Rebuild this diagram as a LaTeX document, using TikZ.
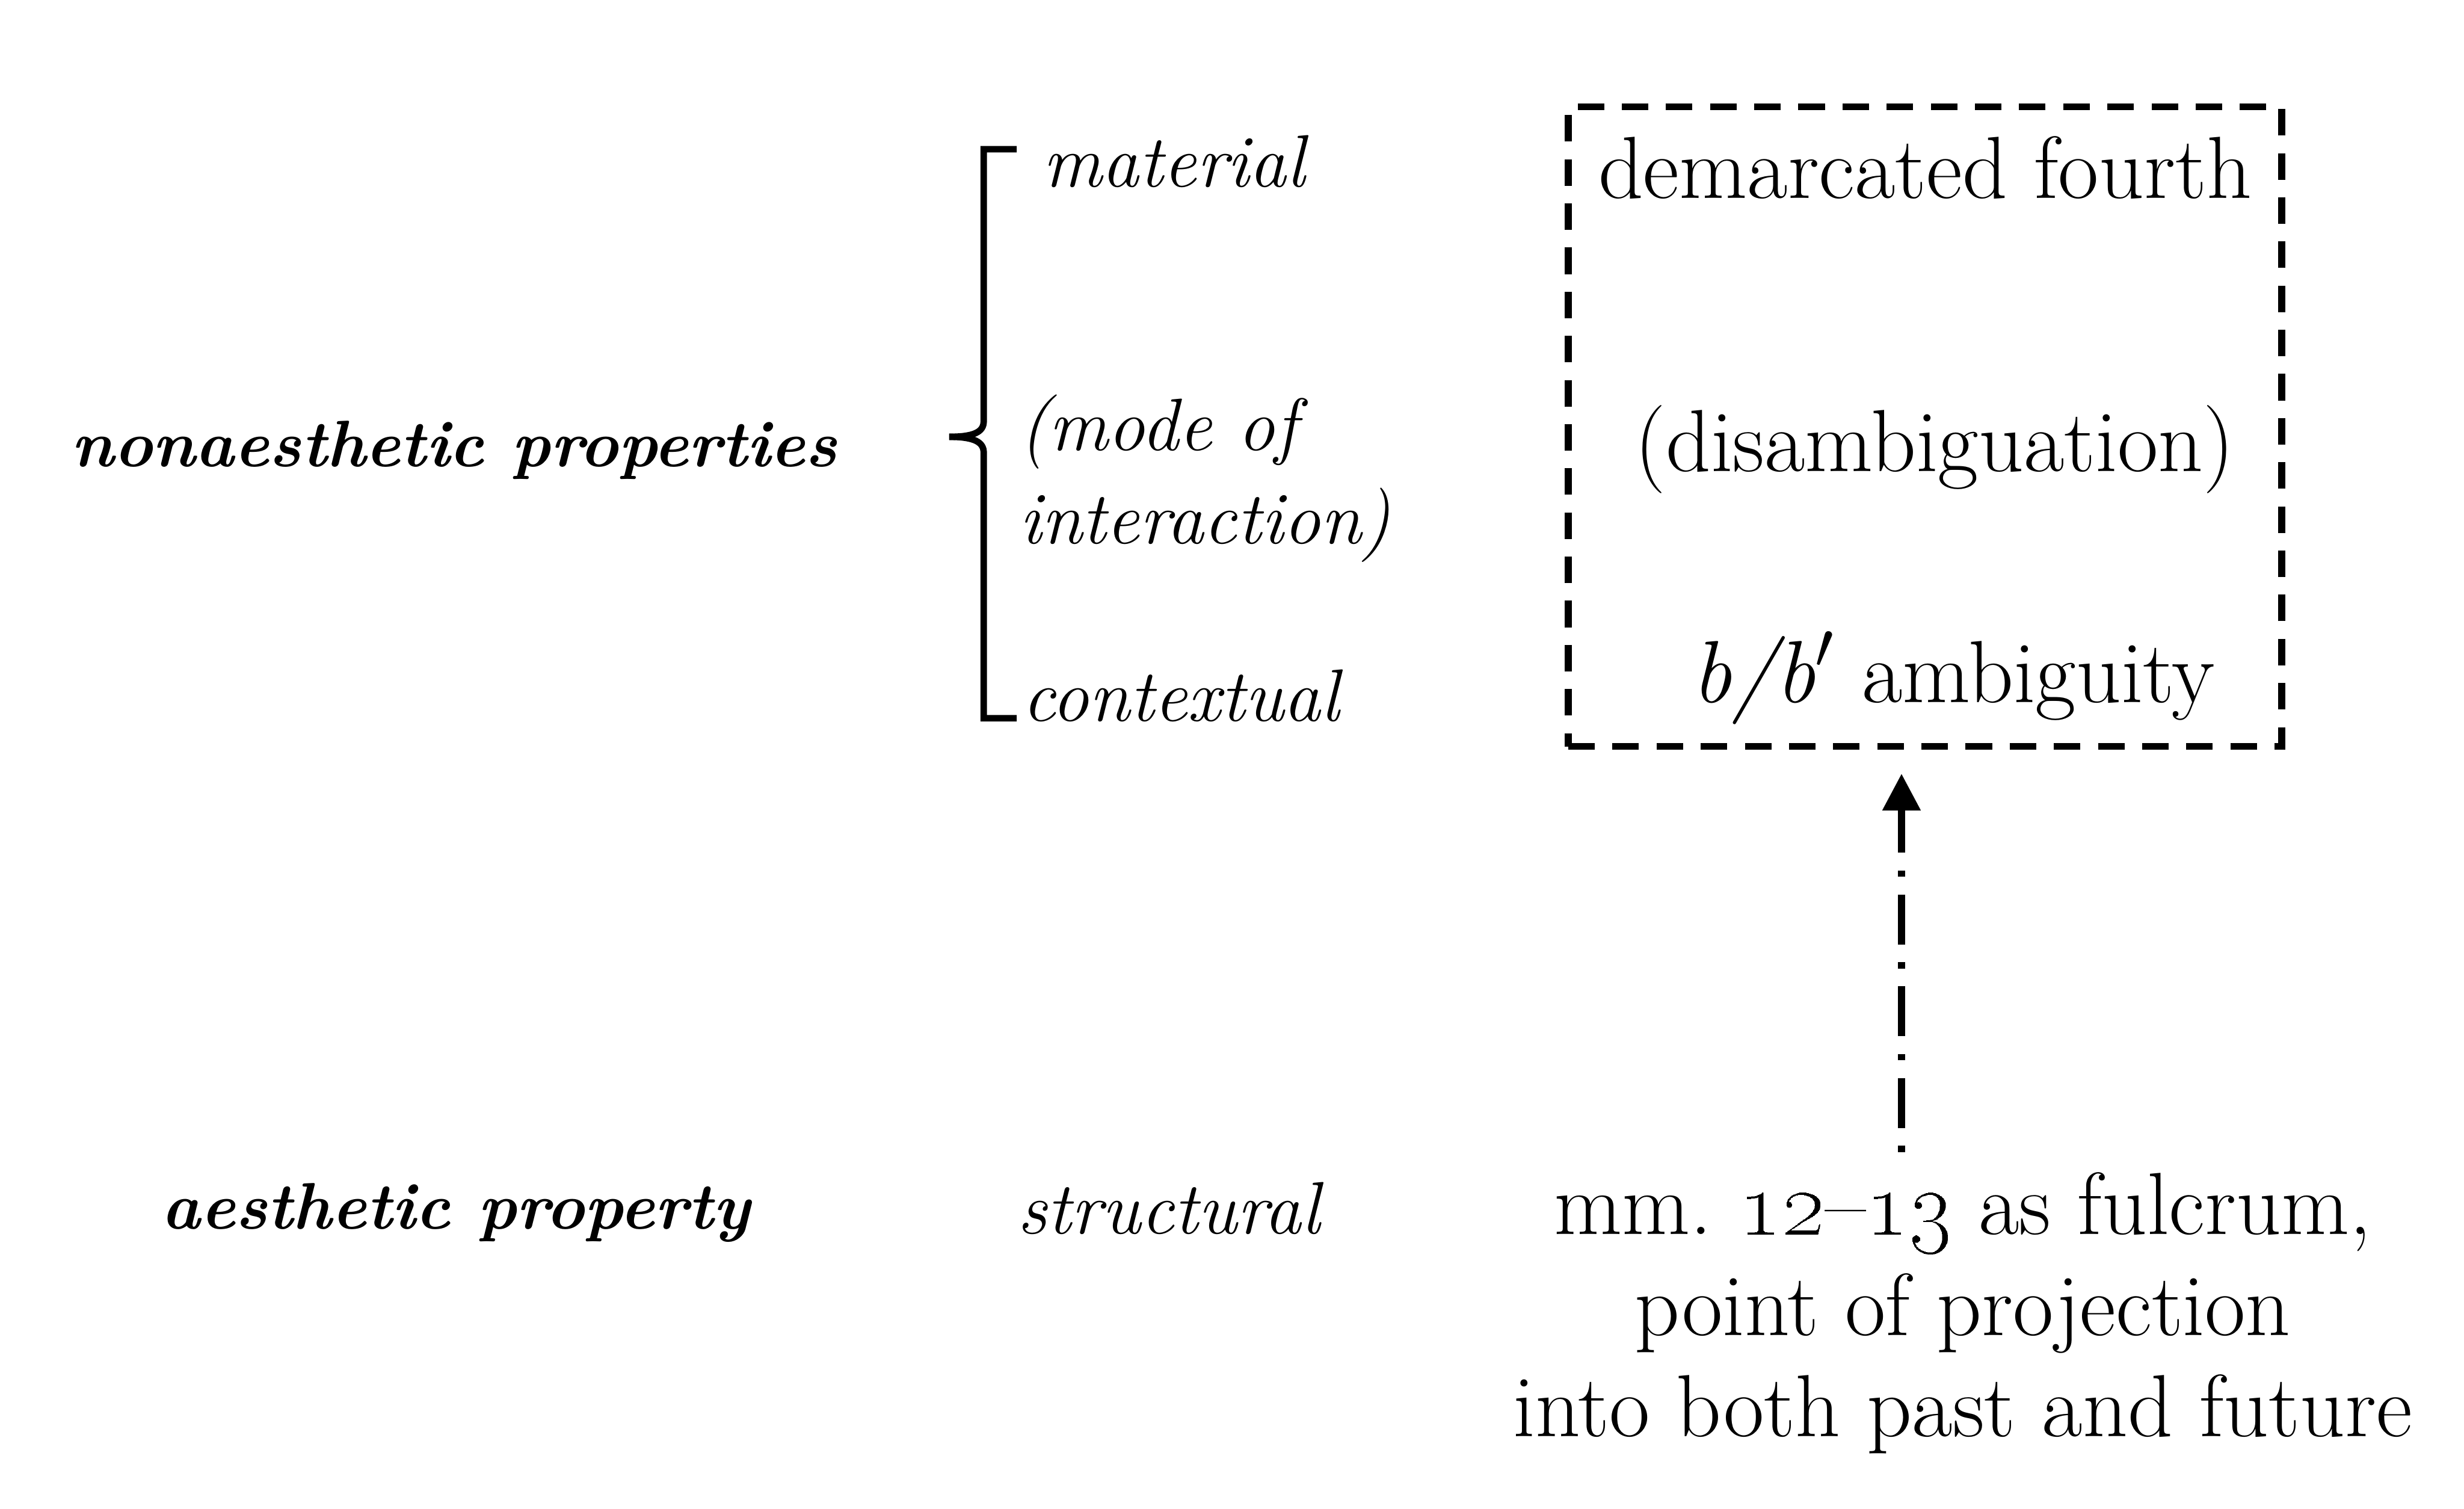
\documentclass[tikz,border=0pt]{standalone}
\usetikzlibrary{arrows.meta}
\begin{document}
\begin{tikzpicture}[
    mytext/.style={font=\fontsize{23.2}{26.6}\selectfont, inner sep=0pt, anchor=base},
    myital/.style={font=\fontsize{19.5}{24.5}\selectfont\itshape, inner sep=0pt, anchor=base west},
    myhead/.style={font=\fontsize{17.3}{21}\selectfont\bfseries\itshape, inner sep=0pt, anchor=base},
    mybox/.style={draw, line width=1.8pt, dash pattern=on 0.245cm off 0.163cm,
        minimum width=6.594cm, minimum height=5.911cm, inner sep=0pt},
    myarrow/.style={-{Triangle[length=0.34cm, width=0.34cm]}, line width=1.8pt,
        dash pattern=on 0.058cm off 0.165cm on 0.46cm off 0.165cm},
    mybrace/.style={line width=1.7pt}
]
    \useasboundingbox (0, 0) rectangle (22.774, 13.943);

    % Left column
    \node[myhead] (nonaes) at (4.198, 9.630) {nonaesthetic properties};
    \node[myhead] (aes) at (4.212, 2.585) {aesthetic property};

    % Middle column
    \node[myital] (material) at (9.630, 12.215) {material};
    \node[myital, align=left] (mode) at (9.412, 8.918) {(mode of\\interaction)};
    \node[myital] (context) at (9.441, 7.277) {contextual};
    \node[myital] (struct) at (9.397, 2.542) {structural};

    % Brace
    \coordinate (bracetip) at (8.773, 9.906);
    \draw[mybrace] (9.397, 12.564) -- (9.092, 12.564) -- (9.092, 10.05)
        .. controls (9.092, 9.95) and (9.0, 9.906) .. (bracetip);
    \draw[mybrace] (9.397, 7.306) -- (9.092, 7.306) -- (9.092, 9.76)
        .. controls (9.092, 9.86) and (9.0, 9.906) .. (bracetip);

    % Dashed box
    \node[mybox] (box) at (17.792, 10.0) {};
    \node[mytext] (fourth) at (17.792, 12.113) {demarcated fourth};
    \node[mytext] (disamb) at (17.879, 9.586) {(disambiguation)};
    \node[mytext] (ambig) at (18.054, 7.451) {\textit{b/b}$'$ ambiguity};

    % Bottom right
    \node[mytext, align=center] (fulcrum) at (18.141, 0.668)
        {mm.\ \oldstylenums{12}--\oldstylenums{13} as fulcrum,\\point of projection\\into both past and future};

    % Arrow
    \coordinate (arrowfoot) at (17.575, 3.297);
    \draw[myarrow, shorten >=0.22cm] (arrowfoot) -- (arrowfoot |- box.south);
\end{tikzpicture}
\end{document}
